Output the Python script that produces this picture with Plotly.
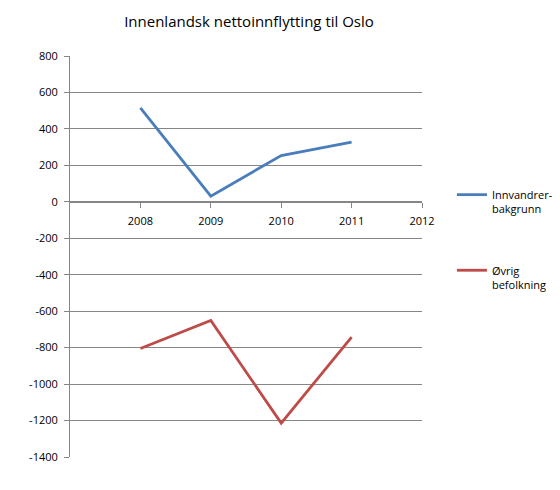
import plotly.graph_objects as go

# Data lest av fra figuren
years = [2008, 2009, 2010, 2011]
innvandrer = [515, 31, 254, 328]
ovrig = [-805, -651, -1214, -742]
tick_years = [2008, 2009, 2010, 2011, 2012]
y_ticks = list(range(-1400, 801, 200))

blue = "#4a7ebb"
red = "#be4b48"
grid = "#868686"

fig = go.Figure()

fig.add_trace(go.Scatter(
    x=years, y=innvandrer, mode="lines",
    name="Innvandrer-<br>bakgrunn",
    line=dict(color=blue, width=2.8),
    legendgroup="a",
    xaxis="x2",
))
fig.add_trace(go.Scatter(
    x=years, y=ovrig, mode="lines",
    name="Øvrig<br>befolkning",
    line=dict(color=red, width=2.8),
    legendgroup="b",
    xaxis="x2",
))

ymin, ymax = -1400, 800

# siden har 8px marg rundt figuren, derfor 552x482
fig.update_layout(
    width=552, height=482,
    margin=dict(l=62, r=138, t=48, b=33, autoexpand=False),
    paper_bgcolor="white",
    plot_bgcolor="white",
    font=dict(family="Open Sans", size=11, color="#000000"),
    title=dict(
        text="Innenlandsk nettoinnflytting til Oslo",
        x=241 / 552, xanchor="center",
        y=1 - 14 / 482, yanchor="middle",
        font=dict(size=15, color="#000000"),
    ),
    showlegend=True,
    legend=dict(
        x=1.085, xanchor="left",
        y=(449 - 173) / 401, yanchor="top",
        valign="top",
        tracegroupgap=44,
        font=dict(size=11),
        bgcolor="rgba(0,0,0,0)",
    ),
    # bunnakse (skjult)
    xaxis=dict(
        range=[2007, 2012],
        showticklabels=False, showgrid=False, zeroline=False,
        showline=False, ticks="",
    ),
    # kategoriakse som krysser ved y = 0
    xaxis2=dict(
        range=[2007, 2012],
        overlaying="x",
        anchor="free",
        position=(0 - ymin) / (ymax - ymin),
        side="bottom",
        tickvals=tick_years,
        ticktext=[str(t) for t in tick_years],
        ticks="outside", ticklen=5, tickcolor=grid, tickwidth=1,
        ticklabelstandoff=4,
        showline=True, linecolor=grid, linewidth=1,
        showgrid=False, zeroline=False,
    ),
    yaxis=dict(
        range=[ymin, ymax],
        tickvals=y_ticks,
        ticktext=[str(v) for v in y_ticks],
        ticks="outside", ticklen=5, tickcolor=grid, tickwidth=1,
        ticklabelstandoff=4,
        showline=True, linecolor=grid, linewidth=1,
        showgrid=True, gridcolor=grid, gridwidth=1,
        zeroline=False,
    ),
)

fig.write_html("out.html")
